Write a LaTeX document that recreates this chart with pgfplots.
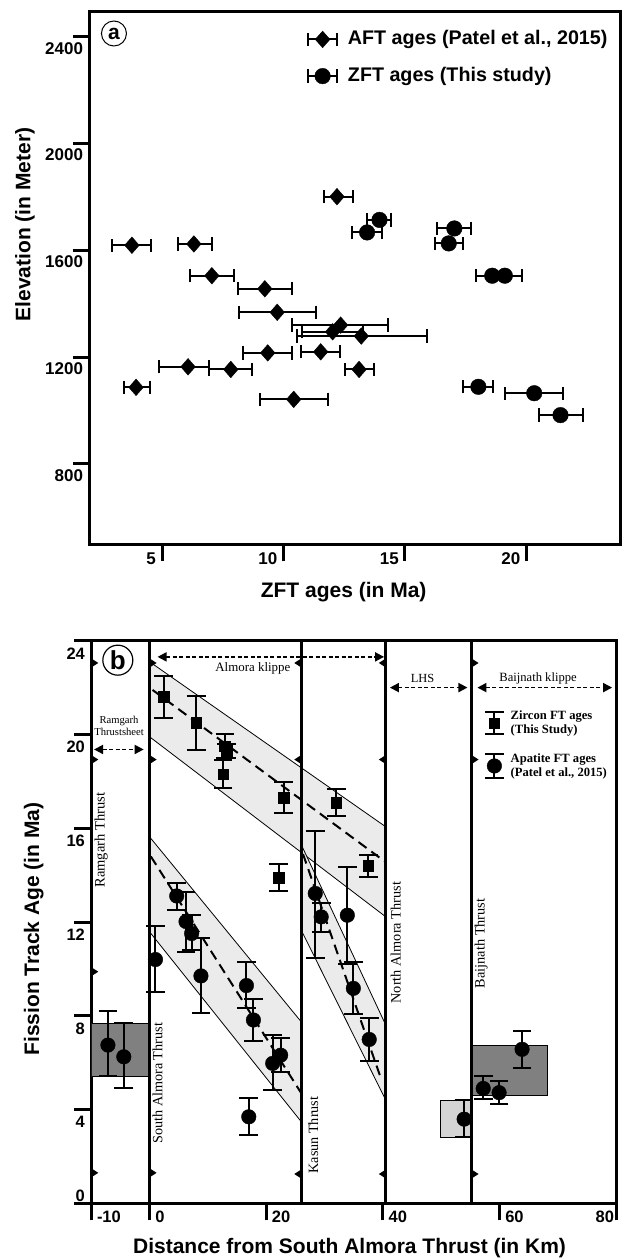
\documentclass[border=0pt]{standalone}
\usepackage{fontspec}
\setmainfont{Liberation Serif}
\newfontfamily\arial{Liberation Sans}
\usepackage{pgfplots}
\pgfplotsset{compat=1.18}
\usetikzlibrary{arrows.meta}

\definecolor{bandgray}{HTML}{EBEBEB}
\definecolor{darkbox}{HTML}{808080}
\definecolor{lightbox}{HTML}{D4D4D4}

\pgfdeclareplotmark{faultR}{%
  \pgfpathmoveto{\pgfqpoint{0pt}{4.5pt}}%
  \pgfpathlineto{\pgfqpoint{7pt}{0pt}}%
  \pgfpathlineto{\pgfqpoint{0pt}{-4.5pt}}%
  \pgfpathclose\pgfusepathqfill}
\pgfdeclareplotmark{faultL}{%
  \pgfpathmoveto{\pgfqpoint{0pt}{4.5pt}}%
  \pgfpathlineto{\pgfqpoint{-7pt}{0pt}}%
  \pgfpathlineto{\pgfqpoint{0pt}{-4.5pt}}%
  \pgfpathclose\pgfusepathqfill}

\begin{document}
\begin{tikzpicture}
\useasboundingbox (0pt,0pt) rectangle (621pt,-1260pt);

% ---------------- Panel (a) ----------------
\begin{axis}[
  at={(89.9pt,-544pt)}, anchor=south west,
  scale only axis, width=530.1pt, height=532.3pt,
  xmin=2.03, xmax=23.85, ymin=500.4, ymax=2493.6,
  axis line style={line width=3pt},
  xtick={5,10,15,20}, ytick={800,1200,1600,2000,2400},
  tick pos=left, tick align=outside,
  major tick length=17pt,
  tick style={line width=3pt, black},
  /pgf/number format/assume math mode=true,
  /pgf/number format/set thousands separator={},
  tick label style={font=\arial\bfseries\fontsize{17}{17}\selectfont, inner sep=0pt},
  yticklabel style={anchor=east, xshift=10.3pt, yshift=-11.6pt},
  xticklabel style={anchor=east, xshift=-6pt, yshift=2pt},
  xlabel={ZFT ages (in Ma)}, ylabel={Elevation (in Meter)},
  label style={font=\arial\bfseries\fontsize{21}{21}\selectfont},
  xlabel style={at={(rel axis cs:0.4786,-0.0896)}, anchor=center},
  ylabel style={at={(rel axis cs:-0.1224,0.600)}, anchor=center, rotate=0},
  legend style={draw=none, fill=none, at={(rel axis cs:0.404,0.969)}, anchor=north west,
    font=\arial\bfseries\fontsize{19.7}{19.7}\selectfont,
    nodes={inner sep=0pt, text height=14pt, text depth=4pt, font=\arial\bfseries\fontsize{19.7}{19.7}\selectfont},
    row sep=18.7pt, column sep=10pt},
  legend cell align=left,
]
\addlegendimage{legend image code/.code={
  \draw[line width=2pt] (0pt,0pt) -- (28.7pt,0pt);
  \draw[line width=2pt] (0pt,-6.65pt) -- (0pt,6.65pt) (28.7pt,-6.65pt) -- (28.7pt,6.65pt);
  \fill (14.35pt,8.3pt) -- (21.7pt,0pt) -- (14.35pt,-8.3pt) -- (7pt,0pt) -- cycle;}}
\addlegendentry{AFT ages (Patel et al., 2015)}
\addlegendimage{legend image code/.code={
  \draw[line width=2pt] (0pt,0pt) -- (28.7pt,0pt);
  \draw[line width=2pt] (0pt,-6.65pt) -- (0pt,6.65pt) (28.7pt,-6.65pt) -- (28.7pt,6.65pt);
  \fill (14.35pt,0pt) circle (7.8pt);}}
\addlegendentry{ZFT ages (This study)}

\addplot[only marks, black, mark=diamond*, mark size=8.3pt, mark options={xscale=1.17, black},
  error bars/.cd, x dir=both, x explicit, error mark=|,
  error bar style={line width=2pt, black},
  error mark options={mark size=6.65pt, line width=2pt, black}]
  table[x=x, y=y, x error minus=em, x error plus=ep] {
x y em ep
12.20 1801 0.55 0.64
3.76 1619 0.80 0.79
6.31 1624 0.66 0.76
7.05 1505 0.91 0.90
9.23 1456 1.11 1.13
9.74 1368 1.58 1.58
12.35 1320 2.01 1.97
12.02 1295 1.27 1.27
13.20 1279 2.66 2.72
9.35 1216 1.03 0.99
11.53 1220 0.80 0.80
6.07 1164 1.21 0.86
7.83 1154 0.90 0.88
13.11 1154 0.57 0.62
3.93 1087 0.48 0.56
10.42 1042 1.40 1.42
};
\addplot[only marks, black, mark=*, mark size=7.8pt, mark options={black},
  error bars/.cd, x dir=both, x explicit, error mark=|,
  error bar style={line width=2pt, black},
  error mark options={mark size=6.65pt, line width=2pt, black}]
  table[x=x, y=y, x error minus=em, x error plus=ep] {
x y em ep
13.95 1714 0.53 0.48
13.44 1667 0.62 0.62
17.03 1682 0.72 0.70
16.80 1626 0.56 0.60
18.59 1505 0.68 0.60
19.11 1505 0.60 0.71
18.02 1089 0.62 0.61
20.32 1065 1.19 1.19
21.40 983 0.88 0.93
};
\node[circle, draw, line width=1pt, inner sep=0pt, minimum size=25pt,
  font=\arial\bfseries\fontsize{21}{21}\selectfont] at (axis cs:3.02,2412) {a};
\end{axis}

% ---------------- Panel (b) ----------------
\begin{axis}[
  at={(91.3pt,-1203.3pt)}, anchor=south west,
  scale only axis, width=524.9pt, height=562.6pt,
  xmin=-10, xmax=80, ymin=0, ymax=24,
  axis line style={line width=3pt},
  xtick={-10,0,20,40,60}, ytick={4,8,12,16,20,24},
  extra x ticks={80}, extra x tick labels={80},
  extra x tick style={xticklabel style={anchor=east, xshift=-7.5pt}},
  extra y ticks={0}, extra y tick labels={0},
  extra y tick style={yticklabel style={yshift=20pt}},
  tick pos=left, tick align=outside,
  major tick length=17pt,
  tick style={line width=3pt, black},
  /pgf/number format/assume math mode=true,
  tick label style={font=\arial\bfseries\fontsize{16.5}{16.5}\selectfont, inner sep=0pt},
  yticklabel style={anchor=east, xshift=10.8pt, yshift=-12.7pt},
  xticklabel style={anchor=west, xshift=5.5pt, yshift=3.6pt},
  xlabel={Distance from South Almora Thrust (in Km)}, ylabel={Fission Track Age (in Ma)},
  label style={font=\arial\bfseries\fontsize{21}{21}\selectfont},
  xlabel style={at={(rel axis cs:0.492,-0.080)}, anchor=center},
  ylabel style={at={(rel axis cs:-0.1098,0.4876)}, anchor=center, rotate=0},
  legend style={draw=none, fill=none, at={(axis cs:56.8,21.09)}, anchor=north west,
    font=\bfseries\fontsize{12.6}{14}\selectfont,
    nodes={inner sep=0pt, align=left, font=\bfseries\fontsize{12.6}{14}\selectfont},
    row sep=18pt, column sep=6pt},
  legend cell align=left,
]
\addlegendimage{legend image code/.code={
  \draw[line width=2pt] (9.3pt,-10.8pt) -- (9.3pt,10.8pt);
  \draw[line width=2pt] (0pt,-10.8pt) -- (18.6pt,-10.8pt) (0pt,10.8pt) -- (18.6pt,10.8pt);
  \fill (4pt,-5.3pt) rectangle (14.6pt,5.3pt);}}
\addlegendentry{Zircon FT ages\\(This Study)}
\addlegendimage{legend image code/.code={
  \draw[line width=2pt] (9.3pt,-11.6pt) -- (9.3pt,11.6pt);
  \draw[line width=2pt] (0pt,-11.6pt) -- (18.6pt,-11.6pt) (0pt,11.6pt) -- (18.6pt,11.6pt);
  \fill (9.3pt,0pt) circle (7.3pt);}}
\addlegendentry{Apatite FT ages\\(Patel et al., 2015)}

% bands
\addplot[fill=bandgray, draw=black, line width=0.8pt] coordinates {(0,23.1) (40.5,16.06) (40.5,12.22) (0,19.9)} -- cycle;
\addplot[fill=bandgray, draw=black, line width=0.8pt] coordinates {(0,15.63) (26,7.74) (26,3.48) (0,11.58)} -- cycle;
\addplot[fill=bandgray, draw=black, line width=0.8pt] coordinates {(26,15.3) (40.5,7.6) (40.5,4.4) (26,11.65)} -- cycle;
% boxes
\addplot[fill=darkbox, draw=black, line width=0.8pt] coordinates {(-10,5.40) (0,5.40) (0,7.68) (-10,7.68)} -- cycle;
\addplot[fill=darkbox, draw=black, line width=0.8pt] coordinates {(55.2,4.62) (68.2,4.62) (68.2,6.72) (55.2,6.72)} -- cycle;
\addplot[fill=lightbox, draw=black, line width=0.8pt] coordinates {(49.8,2.81) (55.2,2.81) (55.2,4.40) (49.8,4.40)} -- cycle;
% thrust lines
\addplot[line width=2.7pt] coordinates {(0,0) (0,24)};
\addplot[line width=2.7pt] coordinates {(26,0) (26,24)};
\addplot[line width=2.7pt] coordinates {(40.5,0) (40.5,24)};
\addplot[line width=2.7pt] coordinates {(55.2,0) (55.2,24)};
% fault triangles
\addplot[only marks, mark=faultR, black] coordinates {(-10,23.05) (-10,18.93) (-10,9.88) (-10,1.3) (0,23.05) (0,18.93) (0,1.3) (55.2,23.05) (55.2,18.93) (55.2,1.25)};
\addplot[only marks, mark=faultL, black] coordinates {(26,23.05) (26,18.93) (26,1.25) (40.5,23.05) (40.5,18.93) (40.5,1.25)};
% regression lines
\addplot[line width=2pt, dash pattern=on 10pt off 6pt] coordinates {(0.5,21.9) (40.5,14.55)};
\addplot[line width=2pt, dash pattern=on 10pt off 6pt] coordinates {(0.2,14.8) (26,4.7)};
\addplot[line width=2pt, dash pattern=on 10pt off 6pt] coordinates {(26.3,14.9) (39.7,5.3)};

% zircon
\addplot[only marks, black, mark=square*, mark size=5.3pt, mark options={black},
  error bars/.cd, y dir=both, y explicit, error mark=|,
  error bar style={line width=2pt, black},
  error mark options={mark size=9.3pt, line width=2pt, black}]
  table[x=x, y=y, y error=e] {
x y e
2.4 21.6 0.88
8.0 20.5 1.15
12.9 19.5 0.5
13.2 19.3 0.3
12.6 18.3 0.6
23.0 17.3 0.66
32.0 17.1 0.58
37.5 14.4 0.46
22.1 13.9 0.59
};
% apatite
\addplot[only marks, black, mark=*, mark size=7.3pt, mark options={black},
  error bars/.cd, y dir=both, y explicit, error mark=|,
  error bar style={line width=2pt, black},
  error mark options={mark size=9.3pt, line width=2pt, black}]
  table[x=x, y=y, y error minus=em, y error plus=ep] {
x y em ep
-7.15 6.75 1.32 1.46
-4.43 6.25 1.35 1.45
1.0 10.40 1.38 1.43
4.65 13.11 0.60 0.57
6.24 12.02 1.29 1.27
7.2 11.51 0.71 0.79
8.8 9.70 1.60 1.60
16.6 9.29 0.97 1.02
17.8 7.82 0.89 0.88
21.1 5.97 1.14 1.21
22.47 6.32 0.71 0.72
17.0 3.69 0.78 0.79
28.4 13.22 2.75 2.67
29.42 12.22 0.64 0.57
33.9 12.29 2.06 2.06
34.93 9.17 1.10 1.11
37.65 6.99 0.91 0.90
53.93 3.59 0.78 0.82
57.2 4.90 0.47 0.53
59.92 4.72 0.49 0.49
63.86 6.57 0.79 0.78
};

% annotations
\draw[line width=1.8pt, dash pattern=on 4pt off 2.5pt, {Triangle[length=9pt,width=9pt]}-{Triangle[length=9pt,width=9pt]}] (axis cs:1.36,23.31) -- (axis cs:40.2,23.31);
\draw[line width=1.8pt, dash pattern=on 4pt off 2.5pt, {Triangle[length=9pt,width=9pt]}-{Triangle[length=9pt,width=9pt]}] (axis cs:41.2,22.0) -- (axis cs:54.5,22.0);
\draw[line width=1.8pt, dash pattern=on 4pt off 2.5pt, {Triangle[length=9pt,width=9pt]}-{Triangle[length=9pt,width=9pt]}] (axis cs:56.2,22.0) -- (axis cs:79.3,22.0);
\draw[line width=1.8pt, dash pattern=on 4pt off 2.5pt, {Triangle[length=9pt,width=9pt]}-{Triangle[length=9pt,width=9pt]}] (axis cs:-9.53,19.36) -- (axis cs:-1.02,19.36);
\node[font=\fontsize{12.9}{13}\selectfont] at (axis cs:17.7,22.81) {Almora klippe};
\node[font=\fontsize{12.4}{13}\selectfont] at (axis cs:46.8,22.39) {LHS};
\node[font=\fontsize{12.6}{13}\selectfont] at (axis cs:66.6,22.39) {Baijnath klippe};
\node[font=\fontsize{10.6}{11.7}\selectfont, align=center] at (axis cs:-5.24,20.36) {Ramgarh\\Thrustsheet};
\node[rotate=90, font=\fontsize{14.5}{15}\selectfont] at (axis cs:-8.3,15.49) {Ramgarh Thrust};
\node[rotate=90, font=\fontsize{14.2}{15}\selectfont] at (axis cs:1.36,5.12) {South Almora Thrust};
\node[rotate=90, font=\fontsize{14.2}{15}\selectfont] at (axis cs:28.05,2.91) {Kasun Thrust};
\node[rotate=90, font=\fontsize{14.3}{15}\selectfont] at (axis cs:42.2,11.12) {North Almora Thrust};
\node[rotate=90, font=\fontsize{14.3}{15}\selectfont] at (axis cs:56.84,11.09) {Baijnath Thrust};
\node[circle, draw, line width=1.2pt, inner sep=0pt, minimum size=30pt,
  font=\arial\bfseries\fontsize{26}{26}\selectfont] at (axis cs:-5.45,23.17) {b};
\end{axis}
\end{tikzpicture}
\end{document}
